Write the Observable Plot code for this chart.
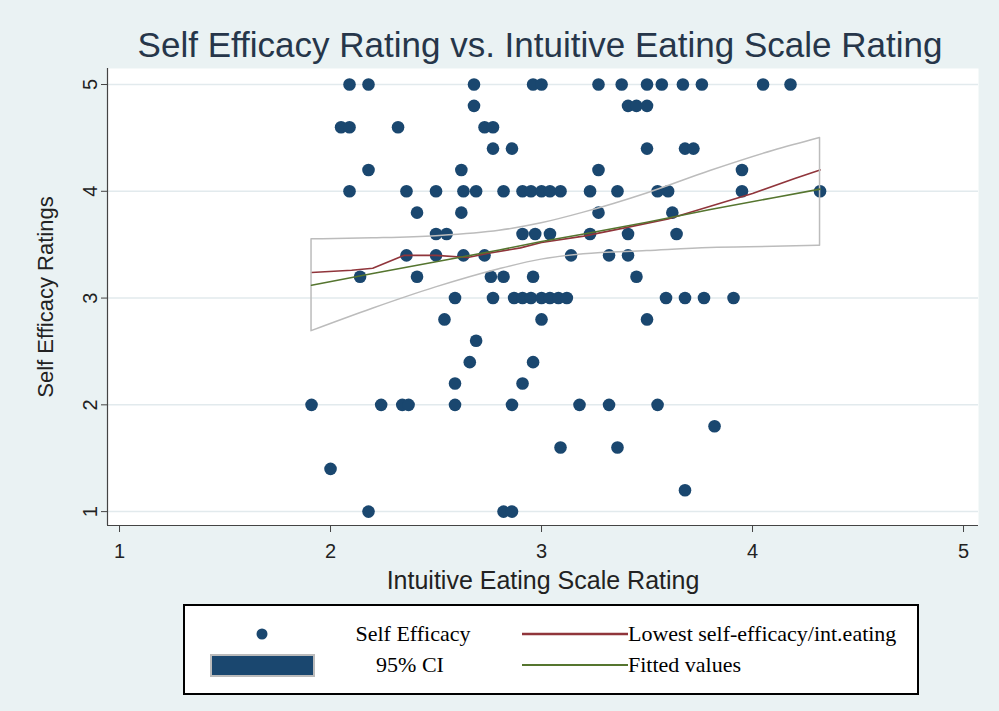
<!DOCTYPE html>
<html><head><meta charset="utf-8">
<script src="https://cdn.jsdelivr.net/npm/d3@7"></script>
<script src="https://cdn.jsdelivr.net/npm/@observablehq/plot@0.6"></script>
<style>
html,body{margin:0;padding:0;background:#eaf2f3;}
#wrap{position:relative;width:999px;height:711px;background:#eaf2f3;overflow:hidden;font-family:"Liberation Sans",Arial,sans-serif;}
#title{position:absolute;left:0;top:0;}
#chart{position:absolute;left:0;top:60px;}
#legend{position:absolute;left:183px;top:604px;}
</style></head>
<body><div id="wrap">
<svg id="title" width="999" height="70"><text x="540" y="57" text-anchor="middle" font-size="35" fill="#26364a" font-family="Liberation Sans, Arial, sans-serif">Self Efficacy Rating vs. Intuitive Eating Scale Rating</text></svg>
<div id="chart"></div>
<svg id="legend" width="736" height="91"></svg>
</div>
<script>
// Scatter data: Intuitive Eating Scale Rating (x) and Self Efficacy Rating (y)
const ieRating = [
  2.09,2.18,2.68,2.96,3.00,3.27,3.38,3.50,3.57,3.67,3.76,4.05,4.18,
  2.68,3.41,3.45,3.50,
  2.05,2.09,2.32,2.73,2.77,
  2.77,2.86,3.50,3.68,3.72,
  2.18,2.62,3.27,3.95,
  2.09,2.36,2.50,2.63,2.69,2.82,2.91,2.95,3.00,3.04,3.09,3.23,3.36,3.55,3.60,3.95,4.32,
  2.41,2.62,3.27,3.62,
  2.50,2.55,2.91,2.97,3.04,3.23,3.41,3.64,
  2.36,2.50,2.63,2.73,3.14,3.32,3.41,
  2.14,2.41,2.76,2.82,2.96,3.45,
  2.59,2.77,2.87,2.91,2.95,3.00,3.04,3.08,3.12,3.59,3.68,3.77,3.91,
  2.54,3.00,3.50,
  2.69,
  2.66,2.96,
  2.59,2.91,
  1.91,2.24,2.34,2.37,2.59,2.86,3.18,3.32,3.55,
  3.82,
  3.09,3.36,
  2.00,
  3.68,
  2.18,2.82,2.86
];
const seRating = [
  5,5,5,5,5,5,5,5,5,5,5,5,5,
  4.8,4.8,4.8,4.8,
  4.6,4.6,4.6,4.6,4.6,
  4.4,4.4,4.4,4.4,4.4,
  4.2,4.2,4.2,4.2,
  4,4,4,4,4,4,4,4,4,4,4,4,4,4,4,4,4,
  3.8,3.8,3.8,3.8,
  3.6,3.6,3.6,3.6,3.6,3.6,3.6,3.6,
  3.4,3.4,3.4,3.4,3.4,3.4,3.4,
  3.2,3.2,3.2,3.2,3.2,3.2,
  3,3,3,3,3,3,3,3,3,3,3,3,3,
  2.8,2.8,2.8,
  2.6,
  2.4,2.4,
  2.2,2.2,
  2,2,2,2,2,2,2,2,2,
  1.8,
  1.6,1.6,
  1.4,
  1.2,
  1,1,1
];
// Lowess smoother
const lowessX = [1.91,2.1,2.2,2.35,2.5,2.65,2.75,2.9,3.0,3.2,3.4,3.6,3.8,4.0,4.2,4.32];
const lowessY = [3.24,3.26,3.28,3.40,3.40,3.38,3.42,3.47,3.52,3.58,3.66,3.74,3.86,3.98,4.12,4.20];
// Linear fit and its 95% CI
const fitX = [1.91,2.2,2.5,2.8,3.0,3.2,3.5,3.8,4.1,4.32];
const fitY = [3.12,3.23,3.34,3.45,3.53,3.60,3.71,3.83,3.94,4.02];
const ciUpper = [3.55,3.56,3.58,3.63,3.70,3.80,3.98,4.19,4.38,4.50];
const ciLower = [2.69,2.90,3.10,3.27,3.36,3.41,3.44,3.47,3.48,3.49];
// Axes
const xTicks = [1,2,3,4,5];
const yTicks = [1,2,3,4,5];
const xTitle = "Intuitive Eating Scale Rating";
const yTitle = "Self Efficacy Ratings";
// Legend
const legendLabels = ["Self Efficacy","Lowest self-efficacy/int.eating","95% CI","Fitted values"];

const points = ieRating.map((x,i)=>({x, y: seRating[i]}));
const lowess = lowessX.map((x,i)=>({x, y: lowessY[i]}));
const fit = fitX.map((x,i)=>({x, y: fitY[i], lo: ciLower[i], hi: ciUpper[i]}));

const navy = "#1a476f", maroon = "#90353b", green = "#55752f", ciGray = "#bcbcbc";

const chart = Plot.plot({
  width: 999, height: 540,
  marginLeft: 107, marginRight: 21, marginTop: 8, marginBottom: 75,
  style: {background: "transparent", fontFamily: "Liberation Sans, Arial, sans-serif", color: "#222"},
  x: {domain: [0.943, 5.071]},
  y: {domain: [0.87, 5.15]},
  marks: [
    Plot.frame({fill: "white", stroke: null}),
    Plot.gridY(yTicks, {stroke: "#e2eaed", strokeOpacity: 1, strokeWidth: 1.5}),
    Plot.dot(points, {x: "x", y: "y", r: 6.3, fill: navy, stroke: null}),
    Plot.line(lowess, {x: "x", y: "y", stroke: maroon, strokeWidth: 1.6}),
    Plot.areaY(fit, {x: "x", y1: "lo", y2: "hi", fill: "none", stroke: ciGray, strokeWidth: 1.5, curve: "monotone-x"}),
    Plot.line(fit, {x: "x", y: "y", stroke: green, strokeWidth: 1.6}),
    Plot.ruleY([0.87], {stroke: "#444", strokeWidth: 1.2}),
    Plot.ruleX([0.943], {stroke: "#444", strokeWidth: 1.2}),
    Plot.axisX({ticks: xTicks, tickFormat: d3.format("d"), tickSize: 7, tickPadding: 11, fontSize: 20, label: null, stroke: "#444"}),
    Plot.axisY({ticks: yTicks, tickFormat: d3.format("d"), tickSize: 6, tickPadding: 5, tickRotate: -90, fontSize: 20, label: null, stroke: "#444"}),
    Plot.text([xTitle], {text: d => d, frameAnchor: "bottom", lineAnchor: "middle", dy: 55, fontSize: 25, fill: "#222"}),
    Plot.text([yTitle], {text: d => d, frameAnchor: "left", textAnchor: "middle", lineAnchor: "middle", dx: -62, rotate: -90, fontSize: 22, fill: "#222"})
  ]
});
document.getElementById("chart").appendChild(chart);

// Legend (HTML/SVG box below the plot)
const lg = d3.select("#legend");
lg.append("rect").attr("x",1).attr("y",1).attr("width",734).attr("height",89).attr("fill","white").attr("stroke","#000").attr("stroke-width",2);
const serif = "Liberation Serif, Times New Roman, serif";
lg.append("circle").attr("cx",79).attr("cy",30).attr("r",5.5).attr("fill",navy);
lg.append("rect").attr("x",28).attr("y",51).attr("width",103).attr("height",21).attr("fill",navy).attr("stroke","#bbb").attr("stroke-width",2);
lg.append("text").attr("x",230).attr("y",37).attr("text-anchor","middle").attr("font-family",serif).attr("font-size",22).text(legendLabels[0]);
lg.append("text").attr("x",227).attr("y",68).attr("text-anchor","middle").attr("font-family",serif).attr("font-size",22).text(legendLabels[2]);
lg.append("line").attr("x1",339).attr("x2",445).attr("y1",30).attr("y2",30).attr("stroke",maroon).attr("stroke-width",2.5);
lg.append("line").attr("x1",339).attr("x2",445).attr("y1",61).attr("y2",61).attr("stroke",green).attr("stroke-width",2);
lg.append("text").attr("x",445).attr("y",37).attr("font-family",serif).attr("font-size",22).text(legendLabels[1]);
lg.append("text").attr("x",445).attr("y",68).attr("font-family",serif).attr("font-size",22).text(legendLabels[3]);
</script>
</body></html>
